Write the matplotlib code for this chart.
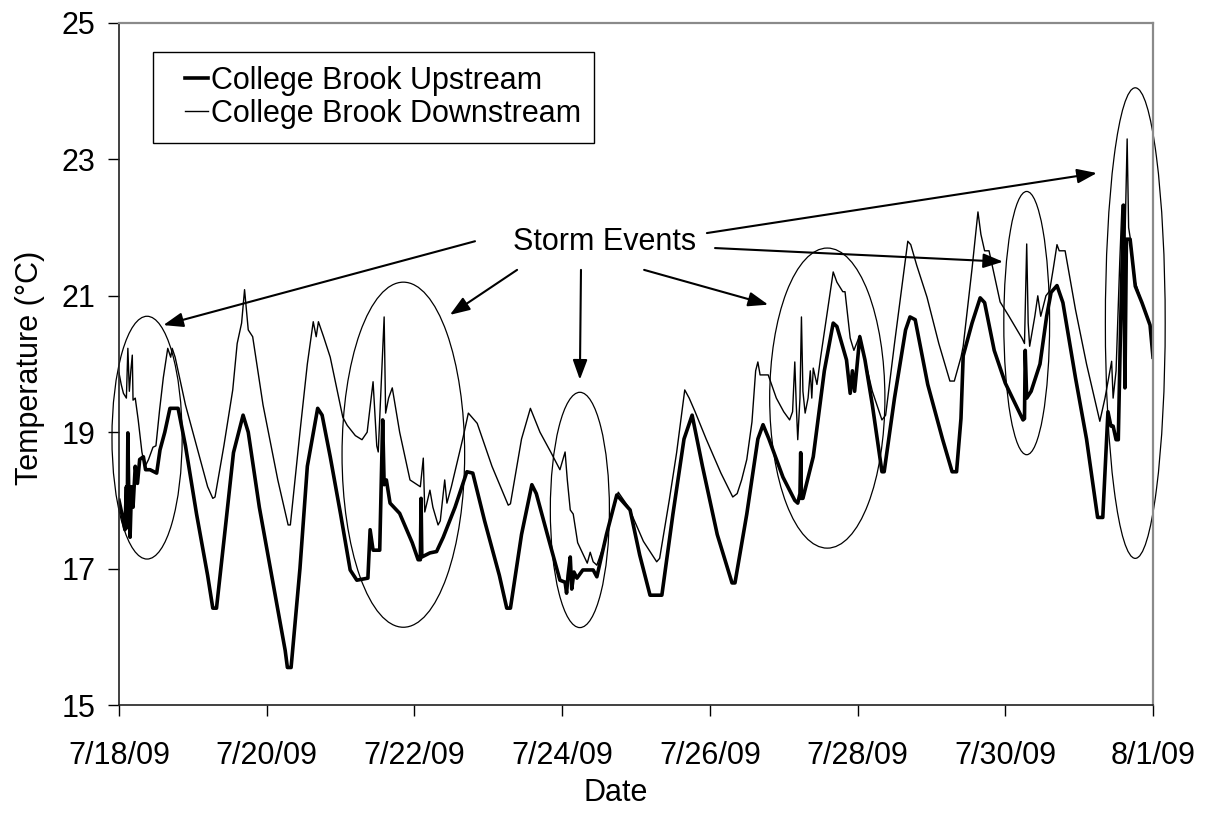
import numpy as np
import pandas as pd
import matplotlib
matplotlib.use('Agg')
import matplotlib.pyplot as plt
from matplotlib.patches import Ellipse
from matplotlib.legend_handler import HandlerLine2D

plt.rcParams['font.family'] = ['Liberation Sans', 'DejaVu Sans']

# Upstream readings: day offset from 7/18/09 00:00, temperature (°C)
up_day = [0.00, 0.05, 0.08, 0.10, 0.11, 0.12, 0.135, 0.15, 0.17, 0.19, 0.22, 0.25, 0.28, 0.33,
          0.36, 0.42, 0.51, 0.555, 0.62, 0.69, 0.80, 0.90, 1.05, 1.20, 1.27, 1.32, 1.45, 1.55,
          1.68, 1.75, 1.90, 2.10, 2.25, 2.28, 2.33, 2.45, 2.55, 2.69, 2.75, 2.86, 3.00, 3.13,
          3.22, 3.37, 3.40, 3.44, 3.53, 3.57, 3.59, 3.62, 3.67, 3.80, 3.97, 4.05, 4.08, 4.09,
          4.10, 4.21, 4.30, 4.39, 4.55, 4.71, 4.79, 4.95, 5.15, 5.25, 5.30, 5.45, 5.59, 5.65,
          5.80, 5.97, 6.04, 6.06, 6.08, 6.11, 6.13, 6.16, 6.20, 6.28, 6.42, 6.47, 6.60, 6.74,
          6.92, 7.05, 7.19, 7.35, 7.50, 7.65, 7.76, 7.90, 8.10, 8.30, 8.34, 8.50, 8.65, 8.72,
          8.80, 8.99, 9.15, 9.19, 9.22, 9.23, 9.24, 9.26, 9.40, 9.55, 9.67, 9.72, 9.85, 9.90,
          9.93, 9.96, 10.03, 10.10, 10.20, 10.33, 10.36, 10.50, 10.65, 10.71, 10.78, 10.95,
          11.15, 11.28, 11.34, 11.40, 11.43, 11.55, 11.66, 11.72, 11.85, 12.00, 12.12, 12.24,
          12.26, 12.27, 12.29, 12.35, 12.47, 12.56, 12.62, 12.70, 12.78, 12.95, 13.10, 13.25,
          13.32, 13.39, 13.43, 13.46, 13.50, 13.53, 13.56, 13.60, 13.62, 13.64, 13.69, 13.76,
          13.85, 13.96, 14.00]
up_temp = [18.00, 17.75, 17.57, 18.20, 17.60, 18.99, 17.90, 17.46, 18.20, 17.90, 18.50, 18.25, 18.60, 18.64,
           18.45, 18.45, 18.40, 18.74, 19.00, 19.35, 19.35, 18.80, 17.80, 16.90, 16.42, 16.42, 17.70, 18.70,
           19.25, 19.00, 17.90, 16.70, 15.80, 15.55, 15.55, 17.00, 18.50, 19.35, 19.25, 18.64, 17.80, 16.98,
           16.83, 16.86, 17.57, 17.27, 17.27, 19.18, 18.23, 18.30, 17.96, 17.81, 17.38, 17.13, 17.13, 18.03,
           17.17, 17.23, 17.25, 17.46, 17.90, 18.42, 18.40, 17.70, 16.90, 16.42, 16.42, 17.50, 18.23, 18.10,
           17.50, 16.83, 16.80, 16.64, 16.90, 17.17, 16.70, 16.95, 16.86, 16.98, 16.98, 16.88, 17.50, 18.08,
           17.86, 17.20, 16.61, 16.61, 17.80, 18.90, 19.25, 18.50, 17.50, 16.79, 16.79, 17.80, 18.90, 19.11,
           18.90, 18.34, 18.00, 17.96, 18.10, 18.70, 18.03, 18.03, 18.64, 19.90, 20.60, 20.55, 20.06, 19.57,
           19.90, 19.60, 20.40, 20.06, 19.40, 18.42, 18.42, 19.50, 20.50, 20.69, 20.65, 19.70,
           18.90, 18.42, 18.42, 19.20, 20.12, 20.60, 20.97, 20.90, 20.20, 19.72, 19.45, 19.18,
           19.20, 20.20, 19.50, 19.60, 20.00, 20.70, 21.05, 21.15, 20.90, 19.80, 18.90, 17.75,
           17.75, 19.30, 19.09, 19.09, 18.89, 18.89, 20.50, 22.33, 19.65, 21.83, 21.83, 21.14,
           20.90, 20.57, 20.10]

# Downstream readings
down_day = [0.00, 0.03, 0.06, 0.10, 0.12, 0.14, 0.16, 0.18, 0.19, 0.22, 0.26, 0.31, 0.35, 0.40,
            0.46, 0.50, 0.55, 0.60, 0.66, 0.70, 0.72, 0.76, 0.90, 1.05, 1.20, 1.27, 1.30, 1.42,
            1.54, 1.60, 1.66, 1.70, 1.75, 1.81, 1.95, 2.15, 2.29, 2.32, 2.45, 2.55, 2.63, 2.67,
            2.70, 2.77, 2.86, 3.03, 3.09, 3.20, 3.29, 3.36, 3.44, 3.49, 3.51, 3.59, 3.61, 3.65,
            3.70, 3.80, 3.94, 4.08, 4.12, 4.14, 4.21, 4.25, 4.32, 4.35, 4.41, 4.44, 4.50, 4.66,
            4.73, 4.85, 5.05, 5.27, 5.30, 5.45, 5.57, 5.70, 5.85, 5.97, 6.04, 6.07, 6.11, 6.15,
            6.21, 6.34, 6.38, 6.42, 6.47, 6.55, 6.65, 6.76, 6.90, 7.10, 7.28, 7.32, 7.45, 7.55,
            7.66, 7.72, 7.80, 7.95, 8.15, 8.31, 8.37, 8.43, 8.50, 8.57, 8.62, 8.65, 8.68, 8.79,
            8.90, 9.00, 9.08, 9.12, 9.15, 9.17, 9.19, 9.22, 9.24, 9.26, 9.29, 9.33, 9.36, 9.38,
            9.40, 9.45, 9.50, 9.67, 9.72, 9.80, 9.83, 9.90, 9.95, 10.03, 10.10, 10.20, 10.33,
            10.38, 10.50, 10.62, 10.68, 10.72, 10.80, 10.94, 11.10, 11.25, 11.31, 11.40, 11.43,
            11.55, 11.63, 11.67, 11.72, 11.78, 11.93, 12.05, 12.23, 12.26, 12.29, 12.31, 12.33,
            12.40, 12.44, 12.48, 12.55, 12.60, 12.65, 12.70, 12.73, 12.81, 12.95, 13.10, 13.28,
            13.35, 13.44, 13.46, 13.50, 13.55, 13.58, 13.62, 13.65, 13.67, 13.69, 13.76, 13.85,
            13.96, 14.00]
down_temp = [19.87, 19.70, 19.57, 19.50, 20.23, 19.60, 19.90, 20.13, 19.47, 19.50, 19.18, 18.71, 18.49, 18.60,
             18.78, 18.80, 19.33, 19.80, 20.23, 20.10, 20.23, 20.10, 19.40, 18.80, 18.20, 18.03, 18.05, 18.80,
             19.62, 20.30, 20.60, 21.09, 20.50, 20.40, 19.40, 18.30, 17.64, 17.64, 19.00, 20.00, 20.62, 20.40,
             20.62, 20.40, 20.10, 19.22, 19.10, 18.95, 18.89, 19.00, 19.74, 18.80, 18.71, 20.69, 19.28, 19.50,
             19.65, 19.00, 18.30, 18.20, 18.62, 17.83, 18.15, 17.90, 17.64, 17.70, 18.30, 17.96, 18.20, 18.93,
             19.28, 19.13, 18.50, 17.93, 17.95, 18.90, 19.35, 19.00, 18.70, 18.45, 18.71, 18.30, 17.86, 17.80,
             17.38, 17.08, 17.24, 17.10, 17.05, 17.30, 17.70, 18.12, 17.90, 17.40, 17.10, 17.15, 18.00, 18.70,
             19.62, 19.50, 19.30, 18.90, 18.40, 18.05, 18.10, 18.30, 18.60, 19.15, 19.90, 20.03, 19.84, 19.84,
             19.50, 19.30, 19.18, 19.30, 20.03, 19.40, 18.89, 19.50, 20.69, 19.60, 19.28, 19.50, 19.90, 19.50,
             19.94, 19.70, 20.10, 21.35, 21.20, 21.06, 21.06, 20.38, 20.20, 20.42, 20.06, 19.60, 19.18,
             19.25, 20.30, 21.30, 21.80, 21.75, 21.45, 20.98, 20.30, 19.75, 19.75, 20.10, 20.26,
             21.40, 22.23, 21.90, 21.66, 21.66, 20.91, 20.70, 20.37, 20.30, 21.76, 20.60, 20.26,
             20.70, 21.00, 20.70, 21.00, 21.07, 21.40, 21.75, 21.66, 21.66, 20.80, 20.00, 19.16,
             19.50, 20.04, 19.50, 19.90, 21.50, 22.33, 21.80, 23.30, 22.00, 21.86, 21.20, 20.90,
             20.57, 20.35]

x_tick_labels = ['7/18/09', '7/20/09', '7/22/09', '7/24/09', '7/26/09', '7/28/09', '7/30/09', '8/1/09']
y_ticks = [15, 17, 19, 21, 23, 25]

start = pd.Timestamp('2009-07-18')
up_time = start + pd.to_timedelta(up_day, unit='D')
down_time = start + pd.to_timedelta(down_day, unit='D')
x_ticks = pd.date_range(start, periods=len(x_tick_labels), freq='2D')


class ShortLine(HandlerLine2D):
    # Excel-style legend: short line key with wide left margin
    def get_xdata(self, legend, xdescent, ydescent, width, height, fontsize):
        x = np.array([-xdescent + width * 0.45, -xdescent + width])
        return x, x


fig = plt.figure(figsize=(12.09, 8.13), dpi=100)
ax = fig.add_axes([119 / 1209, 1 - 705 / 813, (1153 - 119) / 1209, (705 - 23) / 813])

l1, = ax.plot(up_time, up_temp, color='black', linewidth=2.6, label='College Brook Upstream')
l2, = ax.plot(down_time, down_temp, color='black', linewidth=1.0, label='College Brook Downstream')

ax.set_xlim(start, start + pd.Timedelta(days=14))
ax.set_ylim(15, 25)
ax.set_xticks(x_ticks)
ax.set_xticklabels(x_tick_labels)
ax.set_yticks(y_ticks)
ax.tick_params(axis='both', direction='out', length=8, width=1, labelsize=22, color='black')
ax.tick_params(axis='x', pad=18)
ax.tick_params(axis='y', pad=9)

for side in ['left', 'bottom']:
    ax.spines[side].set_color('#202020')
    ax.spines[side].set_linewidth(1.2)
for side in ['top', 'right']:
    ax.spines[side].set_color('#8a8a8a')
    ax.spines[side].set_linewidth(1.6)

ax.set_xlabel('Date', fontsize=22)
ax.xaxis.label.set_verticalalignment('center')
ax.xaxis.set_label_coords(0.48, -0.129)
ax.set_ylabel('Temperature (°C)', fontsize=22)
ax.yaxis.label.set_verticalalignment('center')
ax.yaxis.set_label_coords(-0.086, 0.495)

leg = ax.legend(handles=[l1, l2], loc='upper left', bbox_to_anchor=(0.033, 0.957),
                borderaxespad=0, fontsize=22, fancybox=False, framealpha=1,
                edgecolor='black', handlelength=1.35, handletextpad=0.08,
                borderpad=0.45, labelspacing=0.1,
                handler_map={l1: ShortLine(), l2: ShortLine()})
leg.get_frame().set_linewidth(1.0)


def dnum(d):
    return start + pd.Timedelta(days=d)


# storm event ellipses (centre day, centre temp, width days, height degC)
for cx, cy, w, h in [(0.38, 18.92, 0.95, 3.56), (3.85, 18.67, 1.66, 5.06),
                     (6.24, 17.86, 0.80, 3.45), (9.59, 19.50, 1.56, 4.40),
                     (12.29, 20.60, 0.62, 3.86), (13.76, 20.60, 0.81, 6.90)]:
    e = Ellipse((matplotlib.dates.date2num(dnum(cx)), cy), w, h, fill=False,
                edgecolor='black', linewidth=0.9, clip_on=False)
    ax.add_patch(e)

ax.text(dnum(6.57), 21.79, 'Storm Events', fontsize=22, ha='center', va='center')

arrows = [((4.82, 21.80), (0.60, 20.57)),
          ((5.39, 21.38), (4.48, 20.72)),
          ((6.255, 21.38), (6.24, 19.77)),
          ((7.11, 21.38), (8.79, 20.87)),
          ((7.96, 21.92), (13.24, 22.80)),
          ((8.07, 21.70), (11.97, 21.50))]
for (sx, sy), (ex, ey) in arrows:
    ax.annotate('', xy=(dnum(ex), ey), xytext=(dnum(sx), sy),
                arrowprops=dict(arrowstyle='-|>,head_length=0.6,head_width=0.22',
                                mutation_scale=20, color='black', linewidth=1.5,
                                shrinkA=0, shrinkB=0))

fig.savefig('out.png', dpi=100)
